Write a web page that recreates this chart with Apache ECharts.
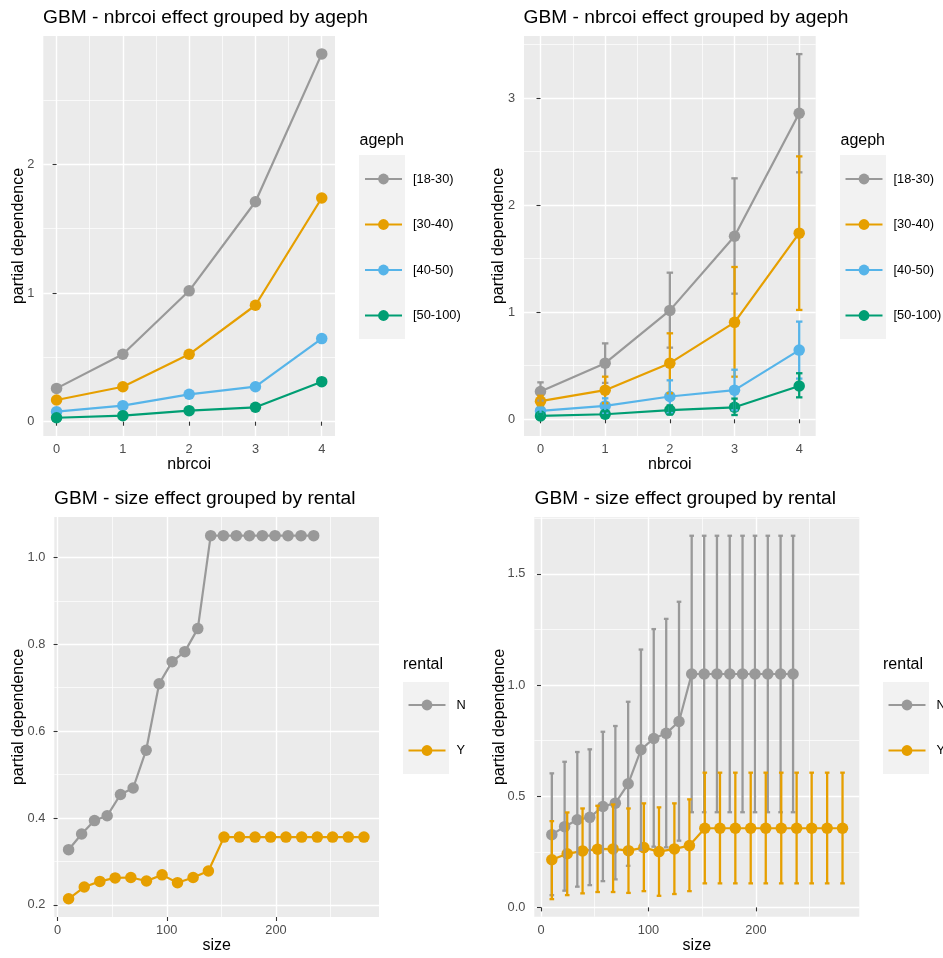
<!DOCTYPE html>
<html><head><meta charset="utf-8">
<script src="https://cdn.jsdelivr.net/npm/echarts@6/dist/echarts.min.js"></script>
<style>html,body{margin:0;padding:0;background:#fff}#c{width:943px;height:958px}</style>
</head><body><div id="c"></div>
<script>
// ---------- data ----------
const nbrcoi = [0, 1, 2, 3, 4];
const agephGroups = ['[18-30)', '[30-40)', '[40-50)', '[50-100)'];
const pd_18_30  = [0.259, 0.524, 1.017, 1.709, 2.858];
const pd_30_40  = [0.169, 0.272, 0.524, 0.905, 1.738];
const pd_40_50  = [0.078, 0.125, 0.213, 0.272, 0.646];
const pd_50_100 = [0.031, 0.047, 0.086, 0.112, 0.311];
const lo_18_30  = [0.175, 0.340, 0.669, 1.173, 2.306];
const hi_18_30  = [0.345, 0.709, 1.369, 2.250, 3.410];
const lo_30_40  = [0.120, 0.150, 0.243, 0.398, 1.021];
const hi_30_40  = [0.220, 0.398, 0.803, 1.422, 2.455];
const lo_40_50  = [0.050, 0.060, 0.058, 0.085, 0.380];
const hi_40_50  = [0.110, 0.196, 0.364, 0.463, 0.912];
const lo_50_100 = [0.014, 0.020, 0.045, 0.040, 0.205];
const hi_50_100 = [0.050, 0.075, 0.130, 0.193, 0.430];

const rentalGroups = ['N', 'Y'];
const sizeN = [10.1, 22, 33.8, 45.4, 57.6, 69.2, 81.1, 93, 104.9, 116.5, 128.4, 140.2, 151.8, 163.7, 175.6, 187.5, 199.1, 211, 222.9, 234.5];
const pdN   = [0.327, 0.363, 0.394, 0.405, 0.454, 0.469, 0.556, 0.709, 0.760, 0.783, 0.836, 1.050, 1.050, 1.050, 1.050, 1.050, 1.050, 1.050, 1.050, 1.050];
const loN   = [0.055, 0.075, 0.093, 0.100, 0.118, 0.126, 0.187, 0.258, 0.273, 0.270, 0.300, 0.428, 0.428, 0.428, 0.428, 0.428, 0.428, 0.428, 0.428, 0.428];
const hiN   = [0.603, 0.655, 0.699, 0.711, 0.790, 0.816, 0.925, 1.160, 1.252, 1.298, 1.375, 1.672, 1.672, 1.672, 1.672, 1.672, 1.672, 1.672, 1.672, 1.672];
const sizeY = [10.1, 24.4, 38.7, 52.7, 67.1, 81.4, 95.7, 109.8, 124.1, 138.1, 152.4, 166.5, 180.8, 195.1, 209.1, 223.5, 237.8, 251.8, 266.2, 280.5];
const pdY   = [0.214, 0.241, 0.254, 0.262, 0.263, 0.255, 0.269, 0.251, 0.263, 0.278, 0.356, 0.356, 0.356, 0.356, 0.356, 0.356, 0.356, 0.356, 0.356, 0.356];
const loY   = [0.037, 0.055, 0.063, 0.069, 0.069, 0.065, 0.073, 0.052, 0.060, 0.073, 0.108, 0.108, 0.108, 0.108, 0.108, 0.108, 0.108, 0.108, 0.108, 0.108];
const hiY   = [0.388, 0.427, 0.445, 0.457, 0.463, 0.445, 0.468, 0.450, 0.468, 0.486, 0.606, 0.606, 0.606, 0.606, 0.606, 0.606, 0.606, 0.606, 0.606, 0.606];

// tick labels / grid positions
const nbrcoiTicks = [0, 1, 2, 3, 4];
const nbrcoiMinor = [0.5, 1.5, 2.5, 3.5];
const pdTicksA = [0, 1, 2];
const pdMinorA = [0.5, 1.5, 2.5];
const pdTicksB = [0, 1, 2, 3];
const pdMinorB = [0.5, 1.5, 2.5, 3.5];
const sizeTicks = [0, 100, 200];
const sizeMinor = [50, 150, 250];
const pdTicksC = [0.2, 0.4, 0.6, 0.8, 1.0];
const pdMinorC = [0.3, 0.5, 0.7, 0.9];
const pdTicksD = [0, 0.5, 1.0, 1.5];
const pdMinorD = [0.25, 0.75, 1.25, 1.75];

// ---------- styling ----------
const FF = 'Liberation Sans, Arial, sans-serif';
const COL = { '[18-30)': '#999999', '[30-40)': '#E69F00', '[40-50)': '#56B4E9', '[50-100)': '#009E73', 'N': '#999999', 'Y': '#E69F00' };

function mainX(gi, min, max, ticks, name) {
  return { type: 'value', gridIndex: gi, min: min, max: max, position: 'bottom',
    name: name, nameLocation: 'middle', nameGap: 21, nameMoveOverlap: false,
    nameTextStyle: { fontSize: 16, color: '#000', fontFamily: FF },
    axisLine: { show: false },
    axisTick: { show: true, length: 4, lineStyle: { color: '#333', width: 1.1 }, customValues: ticks },
    axisLabel: { show: true, customValues: ticks, margin: 7, fontSize: 12.8, color: '#4D4D4D', fontFamily: FF, hideOverlap: false, formatter: v => String(v) },
    splitLine: { show: true, lineStyle: { color: '#fff', width: 1.4 } },
    minorTick: { show: false }, minorSplitLine: { show: false } };
}
function mainY(gi, min, max, ticks, gap, dec) {
  return { type: 'value', gridIndex: gi, min: min, max: max, position: 'left',
    name: 'partial dependence', nameLocation: 'middle', nameGap: gap, nameRotate: 90, nameMoveOverlap: false,
    nameTextStyle: { fontSize: 16, color: '#000', fontFamily: FF },
    axisLine: { show: false },
    axisTick: { show: true, length: 4, lineStyle: { color: '#333', width: 1.1 }, customValues: ticks },
    axisLabel: { show: true, customValues: ticks, margin: 9, fontSize: 12.8, color: '#4D4D4D', fontFamily: FF, hideOverlap: false, formatter: v => v.toFixed(dec) },
    splitLine: { show: true, lineStyle: { color: '#fff', width: 1.4 } },
    minorTick: { show: false }, minorSplitLine: { show: false } };
}
function minorAxis(gi, min, max, ticks) {
  return { type: 'value', gridIndex: gi, min: min, max: max,
    axisLine: { show: false }, axisLabel: { show: false },
    axisTick: { show: false, customValues: ticks },
    splitLine: { show: true, lineStyle: { color: '#fff', width: 0.7 } } };
}

const grids = [
  { left: 43.3, top: 36, width: 291.7, height: 400 },
  { left: 524, top: 36, width: 291.7, height: 400 },
  { left: 54.3, top: 517, width: 324.7, height: 400 },
  { left: 534.3, top: 517.3, width: 325, height: 399.4 }
].map(g => Object.assign(g, { show: true, backgroundColor: '#EBEBEB', borderWidth: 0, containLabel: false, outerBoundsMode: 'none' }));

const xAxes = [
  mainX(0, -0.2, 4.2, nbrcoiTicks, 'nbrcoi'),
  mainX(1, -0.255, 4.255, nbrcoiTicks, 'nbrcoi'),
  mainX(2, -3, 294.3, sizeTicks, 'size'),
  mainX(3, -6.2, 296.1, sizeTicks, 'size'),
  minorAxis(0, -0.2, 4.2, nbrcoiMinor),
  minorAxis(1, -0.255, 4.255, nbrcoiMinor),
  minorAxis(2, -3, 294.3, sizeMinor),
  minorAxis(3, -6.2, 296.1, sizeMinor)
];
const yAxes = [
  mainY(0, -0.111, 2.997, pdTicksA, 16.5, 0),
  mainY(1, -0.156, 3.579, pdTicksB, 17, 0),
  mainY(2, 0.172, 1.093, pdTicksC, 27.5, 1),
  mainY(3, -0.042, 1.755, pdTicksD, 27, 1),
  minorAxis(0, -0.111, 2.997, pdMinorA),
  minorAxis(1, -0.156, 3.579, pdMinorB),
  minorAxis(2, 0.172, 1.093, pdMinorC),
  minorAxis(3, -0.042, 1.755, pdMinorD)
];

function lineSeries(gi, name, xs, ys) {
  return { type: 'line', name: name, xAxisIndex: gi, yAxisIndex: gi, z: 2,
    data: xs.map((x, k) => [x, ys[k]]),
    symbol: 'circle', symbolSize: 11.5, showSymbol: true,
    lineStyle: { color: COL[name], width: 2.2 },
    itemStyle: { color: COL[name], borderWidth: 0 },
    emphasis: { disabled: true }, silent: true, animation: false };
}
function errSeries(gi, name, xs, lo, hi, capW) {
  const c = COL[name];
  return { type: 'custom', xAxisIndex: gi, yAxisIndex: gi, z: 3, silent: true, animation: false,
    data: xs.map((x, k) => [x, lo[k], hi[k]]),
    encode: { x: 0, y: [1, 2] },
    renderItem: function (params, api) {
      const x = api.value(0), l = api.value(1), h = api.value(2);
      const a = api.coord([x, l]), b = api.coord([x, h]);
      const hw = api.size([capW, 0])[0] / 2;
      const st = { stroke: c, lineWidth: 2.3, fill: null };
      return { type: 'group', children: [
        { type: 'line', shape: { x1: a[0], y1: a[1], x2: b[0], y2: b[1] }, style: st },
        { type: 'line', shape: { x1: a[0] - hw, y1: a[1], x2: a[0] + hw, y2: a[1] }, style: st },
        { type: 'line', shape: { x1: b[0] - hw, y1: b[1], x2: b[0] + hw, y2: b[1] }, style: st }
      ] };
    } };
}

const agePd = [pd_18_30, pd_30_40, pd_40_50, pd_50_100];
const ageLo = [lo_18_30, lo_30_40, lo_40_50, lo_50_100];
const ageHi = [hi_18_30, hi_30_40, hi_40_50, hi_50_100];

const series = [];
agephGroups.forEach((g, i) => series.push(lineSeries(0, g, nbrcoi, agePd[i])));
agephGroups.forEach((g, i) => series.push(lineSeries(1, g, nbrcoi, agePd[i])));
agephGroups.forEach((g, i) => series.push(errSeries(1, g, nbrcoi, ageLo[i], ageHi[i], 0.1)));
series.push(lineSeries(2, 'N', sizeN, pdN));
series.push(lineSeries(2, 'Y', sizeY, pdY));
series.push(lineSeries(3, 'N', sizeN, pdN));
series.push(lineSeries(3, 'Y', sizeY, pdY));
series.push(errSeries(3, 'N', sizeN, loN, hiN, 4.3));
series.push(errSeries(3, 'Y', sizeY, loY, hiY, 4.3));

const tStyle = { fontSize: 19.2, fontWeight: 'normal', color: '#000', fontFamily: FF };
const lStyle = { fontSize: 16, fontWeight: 'normal', color: '#000', fontFamily: FF };
const titles = [
  { text: 'GBM - nbrcoi effect grouped by ageph', left: 43, top: 8.5, padding: 0, textStyle: tStyle },
  { text: 'GBM - nbrcoi effect grouped by ageph', left: 523.5, top: 8.5, padding: 0, textStyle: tStyle },
  { text: 'GBM - size effect grouped by rental', left: 54, top: 489.5, padding: 0, textStyle: tStyle },
  { text: 'GBM - size effect grouped by rental', left: 534.5, top: 489.5, padding: 0, textStyle: tStyle },
  { text: 'ageph', left: 359.5, top: 133, padding: 0, textStyle: lStyle },
  { text: 'ageph', left: 840.5, top: 133, padding: 0, textStyle: lStyle },
  { text: 'rental', left: 403, top: 657, padding: 0, textStyle: lStyle },
  { text: 'rental', left: 883, top: 657, padding: 0, textStyle: lStyle }
];

function legend(left, top, names) {
  return { show: true, orient: 'vertical', left: left, top: top, padding: 0,
    itemWidth: 37, itemHeight: 13.5, itemGap: 32.5, selectedMode: false,
    data: names,
    textStyle: { fontSize: 12.8, color: '#000', fontFamily: FF, padding: [0, 0, 0, 6] } };
}
const legends = [
  legend(364, 172.5, agephGroups),
  legend(844.5, 172.5, agephGroups),
  legend(407.5, 698.5, rentalGroups),
  legend(887.5, 698.5, rentalGroups)
];

const keyBg = [
  { type: 'rect', shape: { x: 359, y: 155, width: 46, height: 184 }, style: { fill: '#F2F2F2' }, silent: true, z: 0 },
  { type: 'rect', shape: { x: 840, y: 155, width: 46, height: 184 }, style: { fill: '#F2F2F2' }, silent: true, z: 0 },
  { type: 'rect', shape: { x: 403, y: 682, width: 46, height: 92 }, style: { fill: '#F2F2F2' }, silent: true, z: 0 },
  { type: 'rect', shape: { x: 883, y: 682, width: 46, height: 92 }, style: { fill: '#F2F2F2' }, silent: true, z: 0 }
];

const chart = echarts.init(document.getElementById('c'), null, { renderer: 'canvas' });
chart.setOption({
  animation: false,
  backgroundColor: '#fff',
  textStyle: { fontFamily: FF },
  title: titles,
  legend: legends,
  graphic: keyBg,
  grid: grids,
  xAxis: xAxes,
  yAxis: yAxes,
  series: series
});
</script></body></html>
